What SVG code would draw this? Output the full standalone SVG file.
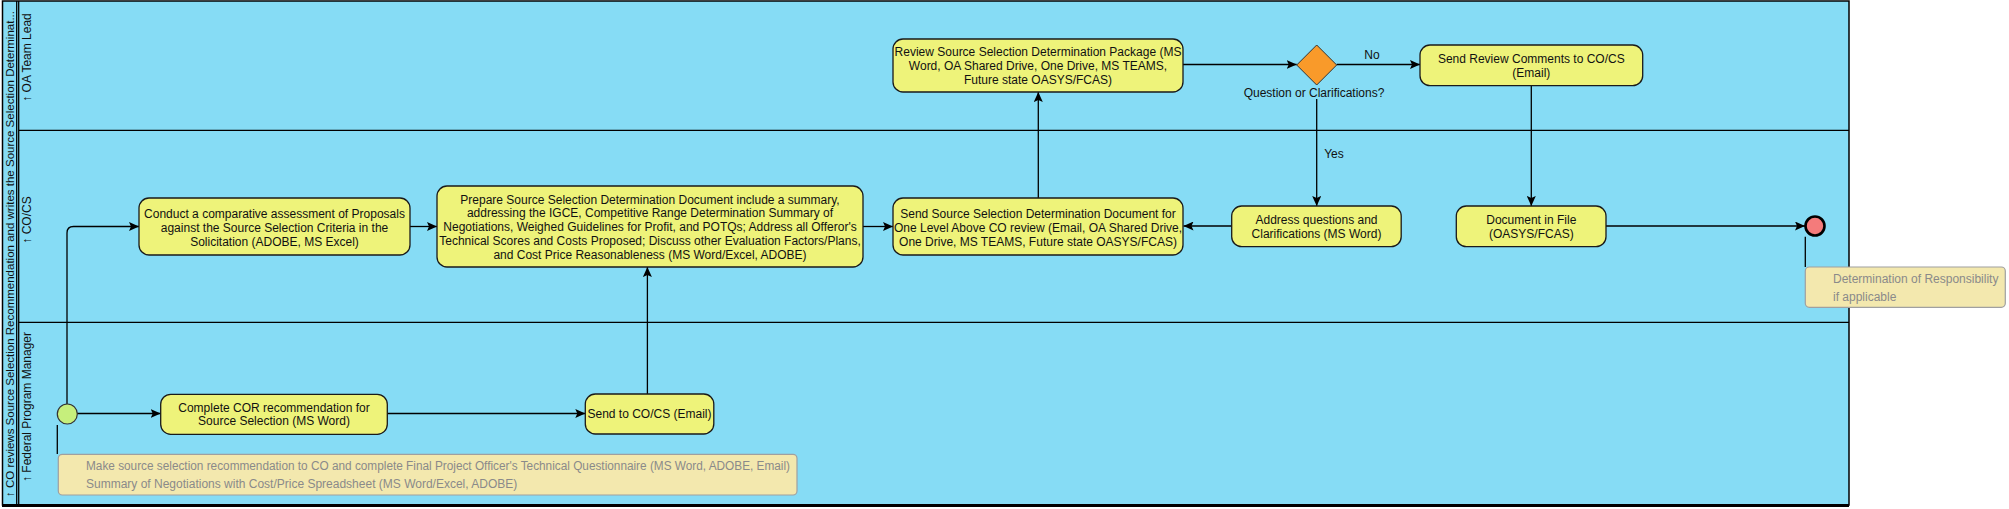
<svg xmlns="http://www.w3.org/2000/svg" width="2009" height="509" viewBox="0 0 2009 509">
<style>
text{font-family:"Liberation Sans",Arial,sans-serif;font-size:12px;fill:#111}
.t{text-anchor:middle}
.task rect{fill:#eef37a;stroke:#1a1a1a;stroke-width:1.3}
.note rect{fill:#f3e8ae;stroke:#a0a0a0;stroke-width:1.2}
.note text{fill:#8a8a8a}
.c{fill:none;stroke:#000;stroke-width:1.3}
.a{marker-end:url(#arr)}
.lane{fill:#86dcf5}
.ln{stroke:#000;stroke-width:1.3}
</style>
<defs>
<marker id="arr" markerUnits="userSpaceOnUse" markerWidth="11" markerHeight="9" refX="10" refY="4.5" orient="auto">
<path d="M0,0 L10,4.5 L0,9 L2,4.5 z" fill="#000"/>
</marker>
</defs>

<g id="pool">
<rect class="lane" x="2.5" y="1" width="1846.5" height="504"/>
<rect x="2.5" y="1" width="1846.5" height="504" fill="none" stroke="#000" stroke-width="1.5"/>
<line x1="2" y1="505.5" x2="1849" y2="505.5" stroke="#000" stroke-width="3"/>
<line class="ln" x1="16.7" y1="1" x2="16.7" y2="505"/>
<line class="ln" x1="18.7" y1="1" x2="18.7" y2="505"/>
<line class="ln" x1="18.7" y1="130.3" x2="1849" y2="130.3"/>
<line class="ln" x1="18.7" y1="322.3" x2="1849" y2="322.3"/>
<text transform="translate(13.8,497) rotate(-90)" style="font-size:11.5px" textLength="486" lengthAdjust="spacingAndGlyphs">↑ CO reviews Source Selection Recommendation and writes the Source Selection Determinat...</text>
<text class="t" transform="translate(31,57.5) rotate(-90)">↑ OA Team Lead</text>
<text class="t" transform="translate(31,220) rotate(-90)">↑ CO/CS</text>
<text class="t" transform="translate(31,407) rotate(-90)">↑ Federal Program Manager</text>
</g>

<g id="connectors">
<path class="c a" d="M67,404 L67,233 Q67,226.5 73.5,226.5 L139,226.5"/>
<path class="c a" d="M77,413.5 L160.7,413.5"/>
<path class="c a" d="M387.3,413.5 L585.3,413.5"/>
<path class="c a" d="M647.4,394 L647.4,267"/>
<path class="c a" d="M410,226.5 L437,226.5"/>
<path class="c a" d="M863,226.5 L893,226.5"/>
<path class="c a" d="M1038.3,198 L1038.3,92"/>
<path class="c a" d="M1183,64.5 L1296.7,64.5"/>
<path class="c a" d="M1336.7,64.5 L1420,64.5"/>
<path class="c a" d="M1316.7,99 L1316.7,206"/>
<path class="c a" d="M1231.7,226 L1183.5,226"/>
<path class="c a" d="M1531.3,85.7 L1531.3,206"/>
<path class="c a" d="M1606,226 L1805,226"/>
<path class="c" d="M57.3,425 L57.3,454"/>
<path class="c" d="M1805.3,236.7 L1805.3,267"/>
<text class="t" x="1372" y="59">No</text>
<text class="t" x="1334" y="157.5">Yes</text>
</g>

<g id="start">
<circle cx="67.3" cy="414" r="10" fill="#c6ef7c" stroke="#333" stroke-width="1.2"/>
</g>

<g id="conduct" class="task">
<rect x="139" y="198" width="271" height="57" rx="10"/>
<text class="t" x="274.5" y="217.5">Conduct a comparative assessment of Proposals</text>
<text class="t" x="274.5" y="231.5">against the Source Selection Criteria in the</text>
<text class="t" x="274.5" y="245.5">Solicitation (ADOBE, MS Excel)</text>
</g>

<g id="prepare" class="task">
<rect x="437" y="186" width="426" height="81" rx="10"/>
<text class="t" x="650" y="203.5">Prepare Source Selection Determination Document include a summary,</text>
<text class="t" x="650" y="217.3">addressing the IGCE, Competitive Range Determination Summary of</text>
<text class="t" x="650" y="231.1">Negotiations, Weighed Guidelines for Profit, and POTQs; Address all Offeror's</text>
<text class="t" x="650" y="244.9">Technical Scores and Costs Proposed; Discuss other Evaluation Factors/Plans,</text>
<text class="t" x="650" y="258.7">and Cost Price Reasonableness (MS Word/Excel, ADOBE)</text>
</g>

<g id="sendssdd" class="task">
<rect x="893" y="198" width="290" height="57" rx="10"/>
<text class="t" x="1038" y="217.5">Send Source Selection Determination Document for</text>
<text class="t" x="1038" y="231.5">One Level Above CO review (Email, OA Shared Drive,</text>
<text class="t" x="1038" y="245.5">One Drive, MS TEAMS, Future state OASYS/FCAS)</text>
</g>

<g id="review" class="task">
<rect x="893" y="39" width="290" height="53" rx="10"/>
<text class="t" x="1038" y="56">Review Source Selection Determination Package (MS</text>
<text class="t" x="1038" y="70">Word, OA Shared Drive, One Drive, MS TEAMS,</text>
<text class="t" x="1038" y="84">Future state OASYS/FCAS)</text>
</g>

<g id="gateway">
<path d="M1316.7,45 L1336.7,65 L1316.7,85 L1296.7,65 Z" fill="#f99a2a" stroke="#333" stroke-width="1"/>
<text class="t" x="1314" y="97">Question or Clarifications?</text>
</g>

<g id="sendreview" class="task">
<rect x="1420" y="45" width="222.7" height="40.7" rx="10"/>
<text class="t" x="1531.3" y="62.5">Send Review Comments to CO/CS</text>
<text class="t" x="1531.3" y="76.5">(Email)</text>
</g>

<g id="address" class="task">
<rect x="1231.7" y="206" width="169.5" height="40.7" rx="10"/>
<text class="t" x="1316.5" y="223.5">Address questions and</text>
<text class="t" x="1316.5" y="237.5">Clarifications (MS Word)</text>
</g>

<g id="docfile" class="task">
<rect x="1456.3" y="206" width="149.7" height="40.7" rx="10"/>
<text class="t" x="1531.3" y="223.5">Document in File</text>
<text class="t" x="1531.3" y="237.5">(OASYS/FCAS)</text>
</g>

<g id="end">
<circle cx="1815" cy="226" r="9.5" fill="#f47b7b" stroke="#000" stroke-width="2.6"/>
</g>

<g id="completecor" class="task">
<rect x="160.7" y="394.3" width="226.6" height="40" rx="10"/>
<text class="t" x="274" y="411.5">Complete COR recommendation for</text>
<text class="t" x="274" y="425.3">Source Selection (MS Word)</text>
</g>

<g id="sendtoco" class="task">
<rect x="585.3" y="394" width="128.5" height="40" rx="10"/>
<text class="t" x="649.5" y="417.5">Send to CO/CS (Email)</text>
</g>

<g id="note1" class="note">
<rect x="58.3" y="454.3" width="738.7" height="40.7" rx="4"/>
<text x="86" y="470" textLength="704" lengthAdjust="spacingAndGlyphs">Make source selection recommendation to CO and complete Final Project Officer's Technical Questionnaire (MS Word, ADOBE, Email)</text>
<text x="86" y="488">Summary of Negotiations with Cost/Price Spreadsheet (MS Word/Excel, ADOBE)</text>
</g>

<g id="note2" class="note">
<rect x="1805.3" y="267" width="200" height="40.3" rx="4"/>
<text x="1833" y="282.5">Determination of Responsibility</text>
<text x="1833" y="301">if applicable</text>
</g>
</svg>
